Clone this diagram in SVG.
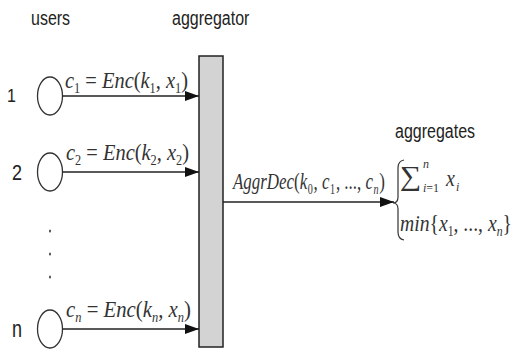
<svg xmlns="http://www.w3.org/2000/svg" width="515" height="353" viewBox="0 0 515 353">
<style>
.lbl{font-family:"Liberation Sans",Arial,sans-serif;font-size:16px;fill:#222}
.m{font-family:"Liberation Serif","Times New Roman",serif;font-size:20px;fill:#333}
.i{font-style:italic}
.s{font-size:12px}
.user{fill:#fff;stroke:#333;stroke-width:1.3}
.conn line{stroke:#222;stroke-width:1.6}
.dot{fill:#333}
</style>
<defs>
<marker id="ah" markerWidth="14" markerHeight="10" refX="14" refY="5" orient="auto" markerUnits="userSpaceOnUse"><path d="M0,0 L14,5 L0,10 z" fill="#111"/></marker>
</defs>
<rect fill="#fff" width="515" height="353"/>
<text class="lbl" transform="translate(31,25) scale(1,1.3)">users</text>
<g id="aggregator">
<text class="lbl" transform="translate(172,25) scale(1,1.3)">aggregator</text>
<rect x="199" y="56" width="24" height="291" fill="#d3d3d3" stroke="#222" stroke-width="1.5"/>
</g>
<g id="user1">
<text class="lbl" transform="translate(7,102) scale(1,1.2)">1</text>
<ellipse class="user" cx="50" cy="96" rx="12.5" ry="19"/>
</g>
<g id="user2">
<text class="lbl" transform="translate(12,180) scale(1,1.2)" style="font-size:18px">2</text>
<ellipse class="user" cx="50" cy="172" rx="12.5" ry="19"/>
</g>
<g id="usern">
<text class="lbl" transform="translate(12,337) scale(1,1.3)" style="font-size:18px">n</text>
<ellipse class="user" cx="50" cy="329" rx="12.5" ry="19"/>
</g>
<g id="ellipsis">
<ellipse class="dot" cx="50" cy="231" rx="0.9" ry="1.6"/>
<ellipse class="dot" cx="50" cy="254" rx="0.9" ry="1.6"/>
<ellipse class="dot" cx="50" cy="277" rx="0.9" ry="1.6"/>
</g>
<g id="aggregates">
<text class="lbl" transform="translate(395,138) scale(1,1.3)">aggregates</text>
<path d="M404,160 Q398,161 398,168 L398,197 Q398,203 393,203 Q398,203 398,209 L398,232 Q398,239 404,240" fill="none" stroke="#333" stroke-width="1.2"/>
<text class="m" transform="translate(400,185) scale(1,0.9)" style="font-size:30px">∑</text>
<text class="m i" x="423" y="168" style="font-size:12px">n</text>
<text class="m" x="423" y="192" style="font-size:12px"><tspan class="i">i</tspan>=1</text>
<text class="m i" transform="translate(446,186) scale(1,1.15)" style="font-size:20px">x</text>
<text class="m i" x="456" y="191" style="font-size:12px">i</text>
<text class="m" transform="translate(400,231) scale(1,1.15)" textLength="112" lengthAdjust="spacingAndGlyphs"><tspan class="i">min</tspan>{<tspan class="i">x</tspan><tspan class="s" dy="4">1</tspan><tspan dy="-4">, ..., </tspan><tspan class="i">x</tspan><tspan class="s i" dy="4">n</tspan><tspan dy="-4">}</tspan></text>
</g>
<g id="connectors" class="conn">
<line x1="62.5" y1="96" x2="199" y2="96" marker-end="url(#ah)"/>
<line x1="62.5" y1="172" x2="199" y2="172" marker-end="url(#ah)"/>
<line x1="62.5" y1="329" x2="199" y2="329" marker-end="url(#ah)"/>
<line x1="223" y1="202" x2="394" y2="202" marker-end="url(#ah)"/>
</g>
<g id="connector-labels">
<text class="m" transform="translate(65,88) scale(1,1.15)" textLength="123" lengthAdjust="spacingAndGlyphs"><tspan class="i">c</tspan><tspan class="s" dy="4">1</tspan><tspan dy="-4"> = </tspan><tspan class="i">Enc</tspan><tspan>(</tspan><tspan class="i">k</tspan><tspan class="s" dy="4">1</tspan><tspan dy="-4">, </tspan><tspan class="i">x</tspan><tspan class="s" dy="4">1</tspan><tspan dy="-4">)</tspan></text>
<text class="m" transform="translate(66,160) scale(1,1.15)" textLength="123" lengthAdjust="spacingAndGlyphs"><tspan class="i">c</tspan><tspan class="s" dy="4">2</tspan><tspan dy="-4"> = </tspan><tspan class="i">Enc</tspan><tspan>(</tspan><tspan class="i">k</tspan><tspan class="s" dy="4">2</tspan><tspan dy="-4">, </tspan><tspan class="i">x</tspan><tspan class="s" dy="4">2</tspan><tspan dy="-4">)</tspan></text>
<text class="m" transform="translate(66,317) scale(1,1.15)" textLength="125" lengthAdjust="spacingAndGlyphs"><tspan class="i">c</tspan><tspan class="s i" dy="4">n</tspan><tspan dy="-4"> = </tspan><tspan class="i">Enc</tspan><tspan>(</tspan><tspan class="i">k</tspan><tspan class="s i" dy="4">n</tspan><tspan dy="-4">, </tspan><tspan class="i">x</tspan><tspan class="s i" dy="4">n</tspan><tspan dy="-4">)</tspan></text>
<text class="m" transform="translate(233,189) scale(1,1.15)" textLength="152" lengthAdjust="spacingAndGlyphs"><tspan class="i">AggrDec</tspan><tspan>(</tspan><tspan class="i">k</tspan><tspan class="s" dy="4" dx="0.5">0</tspan><tspan dy="-4" dx="1">, </tspan><tspan class="i">c</tspan><tspan class="s" dy="4" dx="0.5">1</tspan><tspan dy="-4" dx="1">, ..., </tspan><tspan class="i">c</tspan><tspan class="s i" dy="4" dx="0.5">n</tspan><tspan dy="-4" dx="1">)</tspan></text>
</g>
</svg>
